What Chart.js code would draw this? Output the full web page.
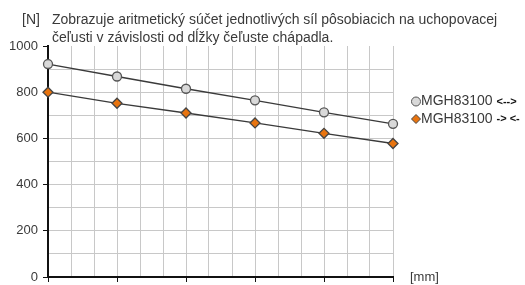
<!DOCTYPE html>
<html>
<head>
<meta charset="utf-8">
<script src="https://cdn.jsdelivr.net/npm/chart.js@4.4.0/dist/chart.umd.min.js"></script>
<style>
body{margin:0;background:#fff;}
#chart-container{width:525px;height:285px;}
</style>
</head>
<body>
<div id="chart-container"><canvas id="myChart" width="525" height="285"></canvas></div>
<script>
// jaw length steps (no labels on the axis in the original)
var jawSteps = [0, 1, 2, 3, 4, 5];
var forceOpen = [922, 868, 815, 765, 713, 663];
var forceClose = [800, 752, 710, 667, 622, 578];
var seriesNames = ['MGH83100', 'MGH83100'];
var seriesArrows = ['<-->', '-> <-'];
var titleLines = [
    'Zobrazuje aritmetický súčet jednotlivých síl pôsobiacich na uchopovacej',
    'čeľusti v závislosti od dĺžky čeľuste chápadla.'
];
var yUnit = '[N]';
var xUnit = '[mm]';

var FONT = '"Liberation Sans", Arial, sans-serif';

function toPoints(values){
    return values.map(function(v, i){ return {x: jawSteps[i], y: v}; });
}
function isWhole(v){
    return Math.abs(v - Math.round(v)) < 1e-6;
}

var textPlugin = {
    id: 'texts',
    afterDraw: function(chart){
        var ctx = chart.ctx;
        var area = chart.chartArea;
        ctx.save();
        ctx.fillStyle = '#3a3a3a';
        ctx.textBaseline = 'alphabetic';
        ctx.textAlign = 'left';
        ctx.font = '14px ' + FONT;
        ctx.fillText(yUnit, 22, 24);
        ctx.fillText(titleLines[0], 52, 24);
        ctx.fillText(titleLines[1], 52, 42);

        ctx.font = '13px ' + FONT;
        ctx.textBaseline = 'middle';
        ctx.fillText(xUnit, area.right + 17, area.bottom);

        // legend
        var rows = [101.5, 119];
        chart.data.datasets.forEach(function(ds, i){
            var y = rows[i];
            ctx.fillStyle = ds.pointBackgroundColor;
            ctx.strokeStyle = ds.pointBorderColor;
            ctx.lineWidth = 1;
            Chart.helpers.drawPoint(ctx, {pointStyle: ds.pointStyle, radius: 4.5, rotation: 0, borderWidth: 1}, 416, y);
            ctx.fillStyle = '#3a3a3a';
            ctx.font = '14px ' + FONT;
            ctx.fillText(seriesNames[i], 421, y);
            var w = ctx.measureText(seriesNames[i] + ' ').width;
            ctx.font = 'bold 11px ' + FONT;
            ctx.fillStyle = '#111';
            ctx.fillText(seriesArrows[i], 421 + w, y);
        });
        ctx.restore();
    }
};

var ctx = document.getElementById('myChart').getContext('2d');
var myChart = new Chart(ctx, {
    type: 'line',
    data: {
        datasets: [{
            label: seriesNames[0] + ' ' + seriesArrows[0],
            data: toPoints(forceOpen),
            borderColor: '#3a3a3a',
            borderWidth: 1.3,
            pointStyle: 'circle',
            pointRadius: 4.5,
            pointBackgroundColor: '#d9d9d9',
            pointBorderColor: '#555',
            pointBorderWidth: 1.3,
            clip: false
        }, {
            label: seriesNames[1] + ' ' + seriesArrows[1],
            data: toPoints(forceClose),
            borderColor: '#3a3a3a',
            borderWidth: 1.3,
            pointStyle: 'rectRot',
            pointRadius: 5,
            pointBackgroundColor: '#e8740f',
            pointBorderColor: '#444',
            pointBorderWidth: 1.3,
            clip: false
        }]
    },
    options: {
        responsive: false,
        animation: false,
        layout: {padding: {top: 46, right: 132, left: 0, bottom: 0}},
        plugins: {
            legend: {display: false},
            tooltip: {enabled: false}
        },
        scales: {
            x: {
                type: 'linear',
                min: 0,
                max: 5,
                ticks: {
                    stepSize: 1 / 3,
                    callback: function(){ return ''; },
                    font: {size: 1}
                },
                grid: {
                    color: '#c8c8c8',
                    lineWidth: 1,
                    tickLength: 5,
                    tickColor: function(c){ return isWhole(c.tick.value) ? '#111' : 'rgba(0,0,0,0)'; }
                },
                border: {color: '#111', width: 2},
                afterFit: function(scale){
                    scale.height = 8;
                    scale.paddingLeft = 0;
                    scale.paddingRight = 0;
                }
            },
            y: {
                min: 0,
                max: 1000,
                ticks: {
                    stepSize: 100,
                    color: '#3a3a3a',
                    padding: 5,
                    font: {family: FONT, size: 13},
                    callback: function(v){ return v % 200 === 0 ? v : ''; }
                },
                grid: {
                    color: function(c){ return c.tick.value === 1000 ? 'rgba(0,0,0,0)' : '#c8c8c8'; },
                    lineWidth: 1,
                    tickLength: 5,
                    tickColor: function(c){ return c.tick.value % 200 === 0 ? '#111' : 'rgba(0,0,0,0)'; }
                },
                border: {color: '#111', width: 2},
                afterFit: function(scale){
                    scale.width = 48;
                    scale.paddingTop = 0;
                    scale.paddingBottom = 0;
                }
            }
        }
    },
    plugins: [textPlugin]
});
</script>
</body>
</html>
